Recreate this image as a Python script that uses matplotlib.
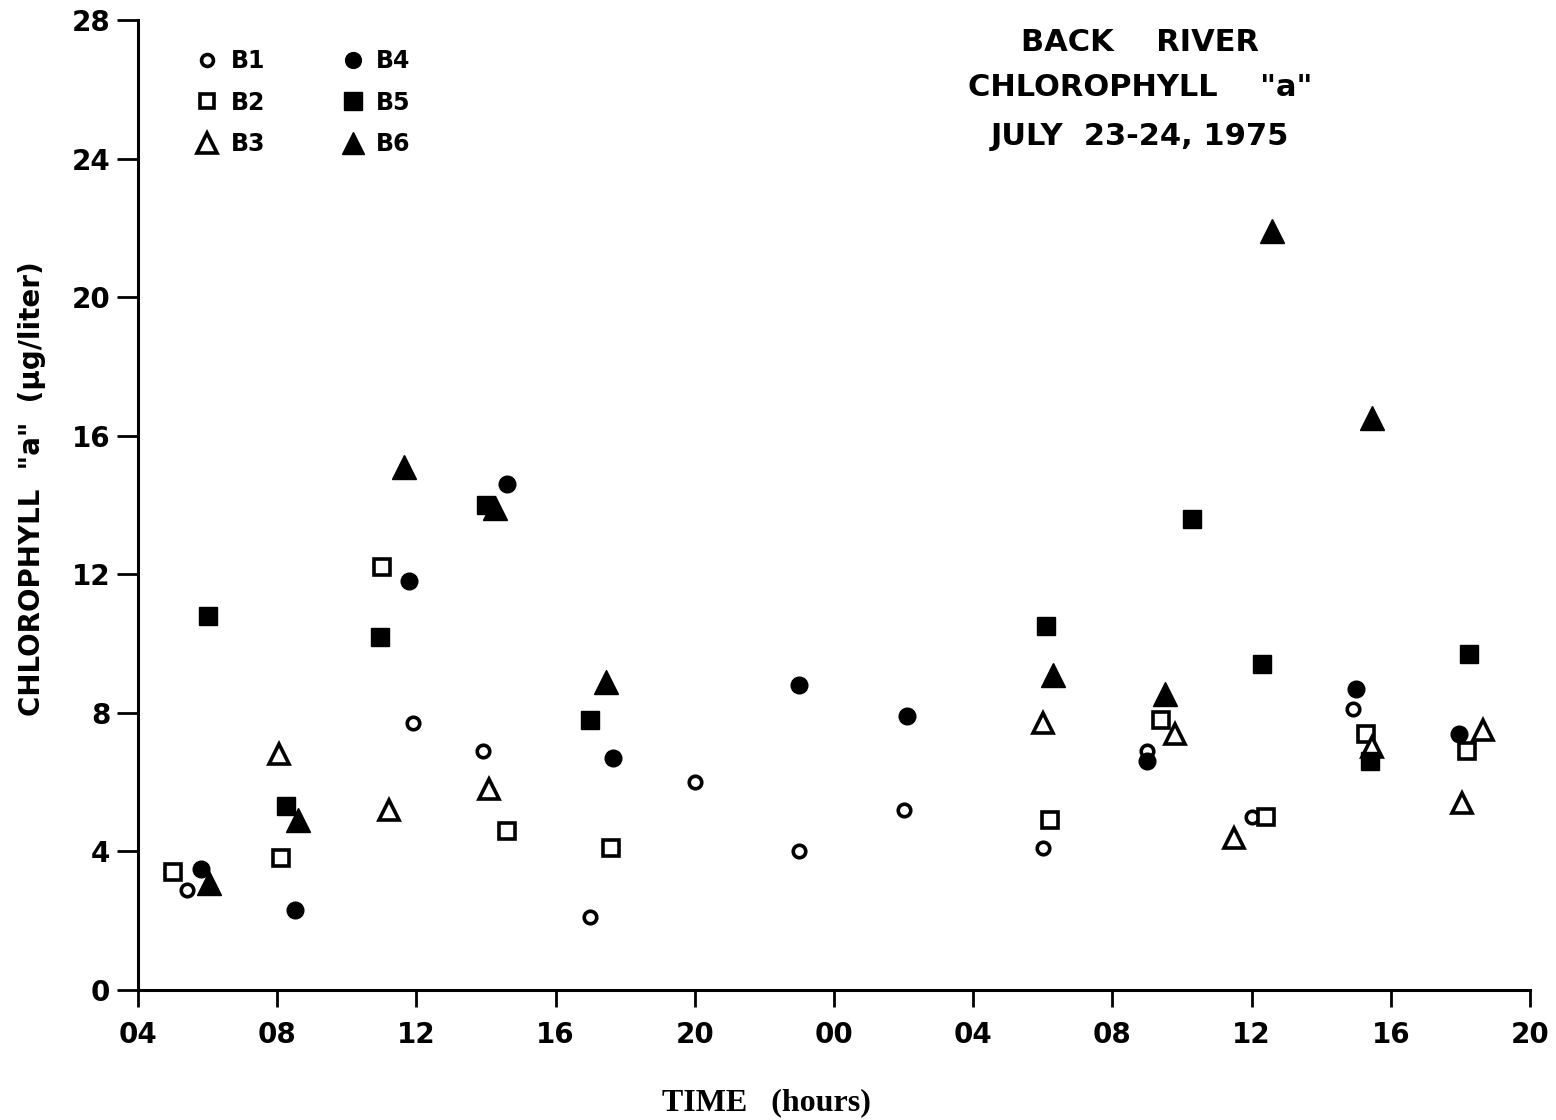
import numpy as np
import matplotlib.pyplot as plt

# Heures depuis minuit le 23 juillet (04 -> 4, 00 le 24 -> 24, 20 le 24 -> 44)
b1_t = [5.4, 11.9, 13.9, 17.0, 20.0, 23.0, 26.0, 30.0, 33.0, 36.0, 38.9]
b1_c = [2.9, 7.7, 6.9, 2.1, 6.0, 4.0, 5.2, 4.1, 6.9, 5.0, 8.1]

b2_t = [5.0, 8.1, 11.0, 14.6, 17.6, 30.2, 33.4, 36.4, 39.3, 42.2]
b2_c = [3.4, 3.8, 12.2, 4.6, 4.1, 4.9, 7.8, 5.0, 7.4, 6.9]

b3_t = [8.05, 11.2, 14.1, 30.0, 33.8, 35.5, 39.45, 42.05, 42.65]
b3_c = [6.8, 5.2, 5.8, 7.7, 7.4, 4.4, 7.0, 5.4, 7.5]

b4_t = [5.8, 8.5, 11.8, 14.6, 17.65, 23.0, 26.1, 33.0, 39.0, 41.95]
b4_c = [3.5, 2.3, 11.8, 14.6, 6.7, 8.8, 7.9, 6.6, 8.7, 7.4]

b5_t = [6.0, 8.25, 10.95, 14.0, 17.0, 30.1, 34.3, 36.3, 39.4, 42.25]
b5_c = [10.8, 5.3, 10.2, 14.0, 7.8, 10.5, 13.6, 9.4, 6.6, 9.7]

b6_t = [6.05, 8.6, 11.65, 14.25, 17.45, 30.3, 33.5, 36.6, 39.45]
b6_c = [3.1, 4.9, 15.1, 13.9, 8.9, 9.1, 8.55, 21.9, 16.5]

x_ticks = list(range(4, 45, 4))
x_labels = ['04', '08', '12', '16', '20', '00', '04', '08', '12', '16', '20']
y_ticks = [0, 4, 8, 12, 16, 20, 24, 28]

fig = plt.figure(figsize=(15.56, 11.2), dpi=100)
ax = fig.add_axes([0.0887, 0.1161, 0.8946, 0.8661])

lw = 2.6
ax.plot(b1_t, b1_c, 'o', ms=9, mfc='white', mec='black', mew=lw, ls='none', label='B1')
ax.plot(b2_t, b2_c, 's', ms=11, mfc='white', mec='black', mew=lw, ls='none', label='B2')
ax.plot(b3_t, b3_c, '^', ms=15, mfc='white', mec='black', mew=lw, ls='none', label='B3')
ax.plot(b4_t, b4_c, 'o', ms=12, color='black', ls='none', label='B4')
ax.plot(b5_t, b5_c, 's', ms=13, color='black', ls='none', label='B5')
ax.plot(b6_t, b6_c, '^', ms=17, color='black', ls='none', label='B6')

ax.set_xlim(4, 44)
ax.set_ylim(0, 28)
ax.set_xticks(x_ticks)
ax.set_xticklabels(x_labels)
ax.set_yticks(y_ticks)

for s in ['top', 'right']:
    ax.spines[s].set_visible(False)
for s in ['left', 'bottom']:
    ax.spines[s].set_linewidth(2.2)

ax.tick_params(axis='y', length=15, width=2, pad=5, labelsize=20)
ax.tick_params(axis='x', length=12, width=2, pad=10, labelsize=20)
for lab in ax.get_xticklabels() + ax.get_yticklabels():
    lab.set_fontweight('bold')

ax.set_ylabel('CHLOROPHYLL  "a"  (\u03bcg/liter)', fontsize=20, fontweight='bold')
ax.yaxis.set_label_coords(-0.066, 0.517)
fig.text(766 / 1556, 1 - 1103 / 1120, 'TIME   (hours)', fontsize=23, family='Liberation Serif',
         fontweight='bold', ha='center', va='center')

title_kw = dict(transform=ax.transAxes, fontsize=22, fontweight='bold', ha='center', va='center')
ax.text(0.72, 0.977, 'BACK    RIVER', **title_kw)
ax.text(0.72, 0.930, 'CHLOROPHYLL    "a"', **title_kw)
ax.text(0.72, 0.880, 'JULY  23-24, 1975', **title_kw)

leg = ax.legend(ncol=2, loc='upper left', bbox_to_anchor=(0.026, 0.992), frameon=False,
                fontsize=17, columnspacing=3.2, handletextpad=0.5, labelspacing=0.75,
                handlelength=1.0, markerscale=0.95)
for t in leg.get_texts():
    t.set_fontweight('bold')

fig.savefig('out.png', dpi=100, facecolor='white')
